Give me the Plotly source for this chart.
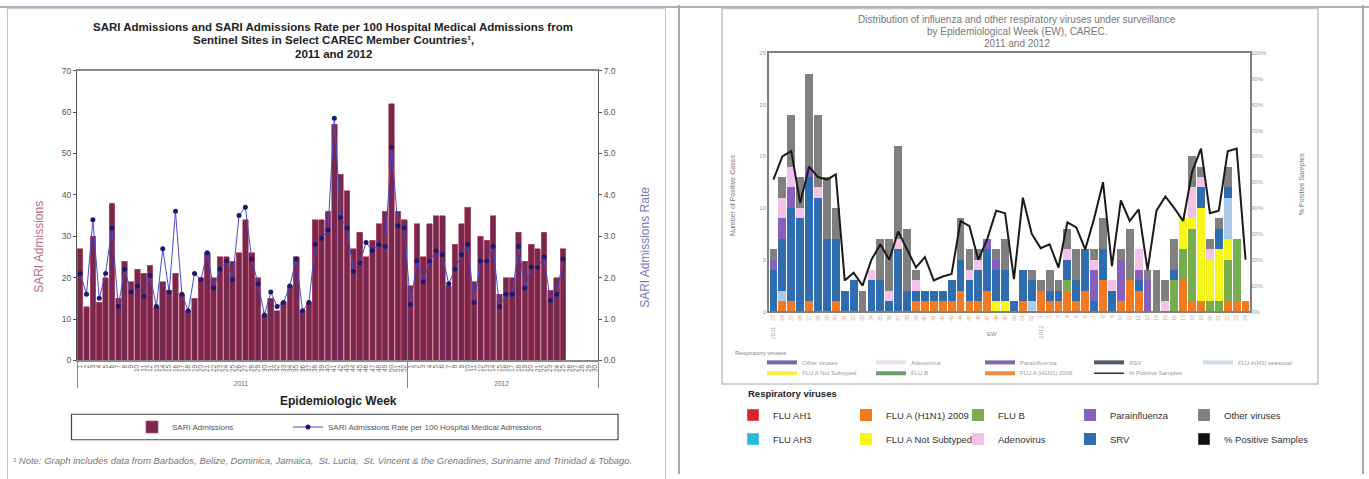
import plotly.graph_objects as go

W, H = 1369, 479


def fx(p):
    return p / W


def fy(p):
    return 1 - p / H


SANS = "Liberation Sans, Arial, sans-serif"

# ---------------- Left chart data (SARI) ----------------
years_left = ["2011"] * 52 + ["2012"] * 30
weeks_left = [str(w) for w in range(1, 53)] + [str(w) for w in range(1, 31)]

sari_admissions = [
    27, 13, 30, 14, 20, 38, 15, 24, 19, 22, 21, 23, 13, 19, 17, 21, 16, 12, 15, 20,
    26, 20, 25, 25, 24, 26, 34, 26, 20, 11, 15, 12, 14, 18, 25, 12, 14, 34, 34, 36,
    57, 45, 41, 27, 31, 25, 29, 33, 36, 62, 36, 34,
    18, 33, 25, 33, 35, 35, 18, 28, 33, 37, 19, 30, 29, 35, 16, 20, 20, 31, 24, 28,
    27, 31, 17, 20, 27, None, None, None, None, None,
]
sari_rate = [
    2.1, 1.6, 3.4, 1.5, 2.1, 3.2, 1.3, 2.2, 1.65, 1.8, 1.55, 2.05, 1.3, 2.7, 1.65, 3.6,
    1.6, 1.2, 2.1, 1.95, 2.6, 1.75, 2.2, 2.4, 1.95, 3.5, 3.7, 2.45, 1.85, 1.1, 1.65, 1.3,
    1.4, 1.8, 2.45, 1.2, 1.4, 2.8, 2.95, 3.15, 5.85, 3.45, 3.2, 2.15, 2.35, 2.85, 2.65,
    2.8, 2.75, 5.15, 3.25, 3.2,
    1.35, 2.4, 1.9, 2.4, 2.65, 2.55, 1.85, 2.2, 2.55, 2.8, 1.4, 2.4, 2.4, 2.75, 1.3, 1.6,
    1.6, 2.75, 1.75, 2.25, 2.25, 2.5, 1.45, 1.6, 2.45, None, None, None, None, None,
]

# ---------------- Right chart data (respiratory viruses) ----------------
week_labels_r = [str(w) for w in range(23, 53)] + [str(w) for w in range(1, 25)]
week_pos_r = list(range(1, len(week_labels_r) + 1))

flu_h1n1_2009 = [0, 1, 1, 0, 1, 0, 0, 1, 0, 0, 0, 0, 0, 0, 0, 0, 1, 1, 1, 1,
                 1, 2, 1, 1, 2, 0, 0, 0, 1, 0, 2, 1, 1, 2, 1, 2, 0, 3, 0, 1,
                 3, 2, 0, 0, 0, 0, 3, 1, 1, 0, 0, 1, 1, 1]
flu_b = [0, 0, 0, 0, 0, 0, 0, 0, 0, 0, 0, 0, 0, 0, 0, 0, 0, 0, 0, 0,
         0, 0, 0, 0, 0, 0, 0, 0, 0, 0, 0, 0, 0, 1, 0, 0, 0, 0, 0, 0,
         0, 0, 0, 0, 0, 3, 3, 7, 0, 1, 1, 4, 6, 0]
flu_a_not_subtyped = [0, 0, 0, 0, 0, 0, 0, 0, 0, 0, 0, 0, 0, 0, 0, 0, 0, 0, 0, 0,
                      0, 0, 0, 0, 0, 1, 1, 0, 0, 0, 0, 0, 0, 0, 0, 0, 0, 0, 0, 0,
                      0, 0, 0, 0, 0, 0, 3, 1, 9, 4, 5, 2, 0, 0]
flu_ah3 = [0, 1, 0, 0, 0, 0, 0, 0, 0, 0, 0, 0, 0, 0, 0, 0, 0, 0, 0, 0,
           0, 0, 0, 0, 0, 0, 0, 0, 0, 1, 0, 0, 0, 0, 0, 0, 0, 0, 0, 0,
           0, 0, 0, 0, 0, 0, 0, 0, 0, 0, 0, 4, 0, 0]
srv = [4, 5, 9, 9, 12, 11, 7, 6, 2, 3, 0, 3, 3, 1, 6, 2, 1, 1, 1, 1,
       2, 3, 2, 3, 4, 3, 3, 1, 3, 2, 0, 1, 1, 2, 2, 4, 1, 3, 2, 0,
       0, 1, 0, 0, 0, 1, 0, 0, 2, 0, 2, 1, 0, 0]
parainfluenza = [1, 2, 2, 0, 1, 0, 0, 0, 0, 0, 0, 0, 0, 0, 0, 0, 0, 0, 0, 0,
                 0, 0, 0, 0, 1, 1, 0, 0, 0, 0, 0, 0, 0, 0, 0, 0, 3, 0, 0, 4,
                 0, 1, 3, 0, 0, 0, 0, 0, 0, 0, 0, 0, 0, 0]
adenovirus = [0, 2, 2, 1, 0, 1, 0, 0, 0, 0, 0, 1, 0, 1, 1, 0, 1, 0, 0, 0,
              0, 0, 1, 1, 0, 0, 0, 0, 0, 0, 0, 0, 0, 1, 0, 0, 1, 0, 1, 0,
              0, 2, 0, 0, 1, 0, 0, 3, 1, 1, 0, 0, 0, 0]
other_viruses = [1, 2, 5, 3, 9, 7, 6, 3, 0, 0, 2, 0, 4, 5, 9, 6, 1, 0, 0, 0,
                 0, 4, 2, 1, 0, 1, 3, 0, 0, 1, 1, 2, 1, 2, 3, 0, 1, 3, 0, 1,
                 5, 0, 1, 4, 2, 3, 0, 3, 1, 1, 1, 2, 0, 0]
pct_positive = [0.51, 0.60, 0.62, 0.42, 0.56, 0.52, 0.51, 0.53, 0.12, 0.15,
                0.10, 0.20, 0.26, 0.20, 0.31, 0.24, 0.17, 0.21, 0.12, 0.135,
                0.145, 0.35, 0.33, 0.20, 0.28, 0.39, 0.38, 0.125, 0.44, 0.30,
                0.245, 0.26, 0.17, 0.345, 0.325, 0.24, 0.36, 0.50, 0.175, 0.43,
                0.35, 0.395, 0.16, 0.39, 0.445, 0.40, 0.35, 0.54, 0.63, 0.38,
                0.39, 0.62, 0.63, 0.20]

# titles
left_title_lines = ["SARI Admissions and SARI Admissions Rate per 100 Hospital Medical Admissions from",
                    "Sentinel Sites in Select CAREC Member Countries¹,",
                    "2011 and 2012"]
right_title_lines = ["Distribution of influenza and other respiratory viruses under surveillance",
                     "by Epidemiological Week (EW), CAREC.",
                     "2011 and 2012"]

# colours
C_H1N1 = "#f47a20"
C_B = "#78ad4f"
C_NS = "#f6f61a"
C_AH3_PALE = "#a9c8ea"
C_SRV = "#2f6db0"
C_PARA = "#8560bc"
C_ADENO = "#f2c2ea"
C_OTHER = "#808080"

# crisp legend columns: legend name -> x position of swatch centre (px)
crisp_cols = {"legend2": 755, "legend3": 868, "legend4": 980, "legend5": 1092, "legend6": 1206}

# inner (small, faded) legend rows
inner_row1 = [("Other viruses", "#7468a8"), ("Adenovirus", "#f0dcf0"), ("Parainfluenza", "#8464ac"),
              ("RSV", "#4e5a6e"), ("FLU A(H3) seasonal", "#cfdcee")]
inner_row2 = [("FLU A Not Subtyped", "#f4f040"), ("FLU B", "#6f9c6f"), ("FLU A (H1N1) 2009", "#f08a40"),
              ("% Positive Samples", "#333333")]

fig = go.Figure()

# ---- Left chart traces ----
fig.add_trace(go.Bar(
    x=[years_left, weeks_left], y=sari_admissions, name="SARI Admissions",
    marker=dict(color="#76294f", line=dict(color="#c2506e", width=0.7)),
    xaxis="x", yaxis="y", legend="legend"))
fig.add_trace(go.Scatter(
    x=[years_left, weeks_left], y=sari_rate,
    name="SARI Admissions Rate per 100 Hospital Medical Admissions",
    mode="lines+markers", line=dict(color="#4a4ad0", width=1),
    marker=dict(color="#1b1b6e", size=5),
    xaxis="x", yaxis="y2", legend="legend9"))

# ---- Right chart stacked bars (bottom to top) ----
stack = [
    ("FLU A (H1N1) 2009", flu_h1n1_2009, C_H1N1, "legend3", 1, True),
    ("FLU B", flu_b, C_B, "legend4", 1, True),
    ("FLU A Not Subtyped", flu_a_not_subtyped, C_NS, "legend3", 2, True),
    ("FLU A(H3) seasonal", flu_ah3, C_AH3_PALE, "legend2", 9, False),
    ("SRV", srv, C_SRV, "legend5", 2, True),
    ("Parainfluenza", parainfluenza, C_PARA, "legend5", 1, True),
    ("Adenovirus", adenovirus, C_ADENO, "legend4", 2, True),
    ("Other viruses", other_viruses, C_OTHER, "legend6", 1, True),
]
for name, vals, col, lg, rank, show in stack:
    fig.add_trace(go.Bar(
        x=week_pos_r, y=vals, name=name, marker=dict(color=col, line=dict(width=0)),
        xaxis="x3", yaxis="y3", legend=lg, legendrank=rank, legendgroup=name, showlegend=show))
fig.add_trace(go.Scatter(
    x=week_pos_r, y=pct_positive, name="% Positive Samples", mode="lines",
    line=dict(color="#1a1a1a", width=2), xaxis="x3", yaxis="y4", showlegend=False))

# legend-only entries of the crisp legend (series without marks)
for name, col, lg, rank in [("FLU AH1", "#e0202c", "legend2", 1), ("FLU AH3", "#24bcd9", "legend2", 2),
                            ("% Positive Samples", "#111111", "legend6", 2)]:
    fig.add_trace(go.Bar(x=[None], y=[None], name=name, marker=dict(color=col),
                         xaxis="x3", yaxis="y3", legend=lg, legendrank=rank,
                         legendgroup="c_" + name))

# legend-only entries of the small legend inside the right chart
for lg, row in (("legend7", inner_row1), ("legend8", inner_row2)):
    for i, (name, col) in enumerate(row):
        fig.add_trace(go.Scatter(x=[None], y=[None], name=name, mode="lines",
                                 line=dict(color=col, width=4 if "%" not in name else 1.5),
                                 xaxis="x3", yaxis="y3", legend=lg, legendrank=i + 1))


def ann(text, x, y, size, color, xanchor="center", yanchor="middle", angle=0, xref="paper"):
    return dict(text=text, x=x, y=y, xref=xref, yref="paper", xanchor=xanchor, yanchor=yanchor,
                textangle=angle, showarrow=False, font=dict(family=SANS, size=size, color=color))


annotations = []
for line, ypix in zip(left_title_lines, (22, 36, 50)):
    annotations.append(ann("<b>" + line + "</b>", fx(333), fy(ypix), 11.5, "#222"))
for line, ypix in zip(right_title_lines, (15, 27, 39)):
    annotations.append(ann(line, fx(1017), fy(ypix), 10, "#777"))

annotations += [
    # Left chart
    ann("<b>Epidemiologic Week</b>", fx(338), fy(404), 12, "#222"),
    ann("SARI Admissions", fx(39), fy(247), 12, "#b3708c", angle=-90),
    ann("SARI Admissions Rate", fx(645), fy(248), 12, "#7878b4", angle=-90),
    ann("<i>¹ Note: Graph includes data from Barbados, Belize, Dominica, Jamaica,  St. Lucia,  "
        "St. Vincent &amp; the Grenadines, Suriname and Trinidad &amp; Tobago.</i>",
        fx(11), fy(465), 9.5, "#777", xanchor="left"),
    # Right chart
    ann("Number of Positive Cases", fx(733), fy(195), 7, "#777", angle=-90),
    ann("% Positive Samples", fx(1302), fy(183), 7, "#777", angle=-90),
    ann("2011", week_pos_r[0], fy(334), 6, "#aaa", angle=-90, xref="x3"),
    ann("2012", week_pos_r[30], fy(334), 6, "#aaa", angle=-90, xref="x3"),
    ann("EW", fx(992), fy(336), 6, "#888"),
    ann("Respiratory viruses", fx(733), fy(355), 6, "#888", xanchor="left"),
    ann("<b>Respiratory viruses</b>", fx(746), fy(397), 9.5, "#222", xanchor="left"),
]

shapes = [
    dict(type="line", xref="paper", yref="paper", x0=0, x1=1, y0=fy(2), y1=fy(2),
         line=dict(color="#b0b0b0", width=2)),
    dict(type="rect", xref="paper", yref="paper", x0=fx(7.5), x1=fx(665.5), y0=fy(3.5), y1=fy(485),
         line=dict(color="#b7c6da", width=1)),
    dict(type="line", xref="paper", yref="paper", x0=fx(679), x1=fx(679), y0=0, y1=1,
         line=dict(color="#a8a8a8", width=2)),
    dict(type="rect", xref="paper", yref="paper", x0=fx(722), x1=fx(1318), y0=fy(3.5), y1=fy(387),
         line=dict(color="#c4c4c4", width=1.5)),
    dict(type="line", xref="paper", yref="paper", x0=fx(1363), x1=fx(1363), y0=0, y1=1,
         line=dict(color="#a8a8a8", width=2)),
    # box around the left chart legend
    dict(type="rect", xref="paper", yref="paper", x0=fx(71.5), x1=fx(618), y0=fy(418), y1=fy(444),
         line=dict(color="#444", width=1.2)),
]

tick_small = dict(family=SANS, size=8.5, color="#555")

layout_legends = dict(
    legend=dict(orientation="h", x=fx(132), y=fy(431), xanchor="left", yanchor="middle",
                font=dict(family=SANS, size=8, color="#555"), bgcolor="rgba(0,0,0,0)", itemwidth=30),
    legend9=dict(orientation="h", x=fx(288), y=fy(431), xanchor="left", yanchor="middle",
                 font=dict(family=SANS, size=8, color="#555"), bgcolor="rgba(0,0,0,0)", itemwidth=30),
    legend7=dict(orientation="h", x=fx(762), y=fy(365), xanchor="left", yanchor="middle",
                 font=dict(family=SANS, size=6, color="#999"), bgcolor="rgba(0,0,0,0)",
                 entrywidth=64, itemwidth=30, traceorder="normal"),
    legend8=dict(orientation="h", x=fx(762), y=fy(376), xanchor="left", yanchor="middle",
                 font=dict(family=SANS, size=6, color="#999"), bgcolor="rgba(0,0,0,0)",
                 entrywidth=64, itemwidth=30, traceorder="normal"),
)
for lg, xc in crisp_cols.items():
    layout_legends[lg] = dict(orientation="v", x=fx(xc - 22), y=fy(431), xanchor="left", yanchor="middle",
                              font=dict(family=SANS, size=9.5, color="#333"), bgcolor="rgba(0,0,0,0)",
                              itemwidth=30, traceorder="grouped", tracegroupgap=5)

fig.update_layout(
    width=W, height=H, autosize=False,
    margin=dict(l=0, r=0, t=0, b=0),
    paper_bgcolor="white", plot_bgcolor="white",
    barmode="stack", bargap=0.12,
    font=dict(family=SANS),
    xaxis=dict(domain=[fx(77), fx(598)], anchor="y", type="multicategory", tickangle=-90,
               range=[-0.5, len(weeks_left) - 0.5], dtick=1,
               tickfont=dict(family=SANS, size=6.5, color="#666"), showline=True, linecolor="#8a8a8a",
               linewidth=1.5, mirror=True, showgrid=False, zeroline=False, showdividers=True,
               dividercolor="#888", dividerwidth=1),
    yaxis=dict(domain=[fy(363), fy(67)], anchor="x", range=[0, 70], dtick=10, showline=True,
               linecolor="#555", ticks="outside", ticklen=3, tickcolor="#555", tickfont=tick_small,
               showgrid=False, zeroline=False),
    yaxis2=dict(overlaying="y", side="right", anchor="x", range=[0, 7], dtick=1, tickformat=".1f",
                showline=True, linecolor="#555", ticks="outside", ticklen=3, tickcolor="#555",
                tickfont=tick_small, showgrid=False, zeroline=False),
    xaxis3=dict(domain=[fx(769), fx(1250)], anchor="y3", range=[0.5, 54.5], tickmode="array",
                tickvals=week_pos_r, ticktext=week_labels_r, tickangle=-90,
                tickfont=dict(family=SANS, size=5, color="#e2a07c"), showline=True,
                linecolor="#7f7f7f", linewidth=1.5, mirror=True, showgrid=False, zeroline=False),
    yaxis3=dict(domain=[fy(313), fy(49)], anchor="x3", range=[0, 25], dtick=5,
                tickfont=dict(family=SANS, size=6, color="#999"), showline=True, linecolor="#7f7f7f",
                linewidth=1.5, mirror=True, showgrid=False, zeroline=False),
    yaxis4=dict(overlaying="y3", side="right", anchor="x3", range=[0, 1], dtick=0.1, tickformat=".0%",
                tickfont=dict(family=SANS, size=6, color="#999"), showgrid=False, zeroline=False,
                showline=False),
    annotations=annotations,
    shapes=shapes,
    **layout_legends,
)

fig.write_html(
    "out.html",
    config={"displayModeBar": False},
    post_script="document.body.style.margin='0px';document.body.style.overflow='hidden';",
)
